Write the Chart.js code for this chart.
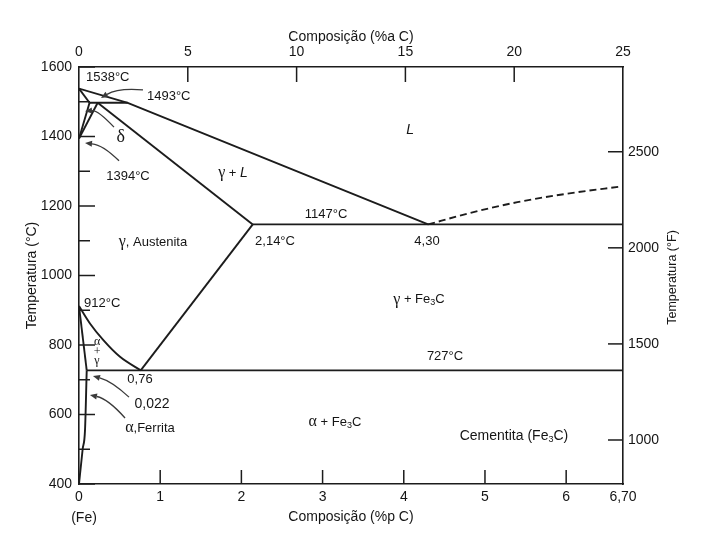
<!DOCTYPE html>
<html><head><meta charset="utf-8">
<script src="https://cdn.jsdelivr.net/npm/chart.js@4"></script>
<style>html,body{margin:0;padding:0;background:#fff}canvas{display:block}</style>
</head><body>
<canvas id="c" width="701" height="539"></canvas>
<script>
// ---------- tick labels ----------
const wtTicks = [0, 1, 2, 3, 4, 5, 6, 6.7];
const wtTickLabels = ['0', '1', '2', '3', '4', '5', '6', '6,70'];
const atTicks = [0, 5, 10, 15, 20, 25];
const tempTicks = [400, 600, 800, 1000, 1200, 1400, 1600];
const tempMinorTicks = [500, 700, 900, 1100, 1300, 1500];
const fTicks = [1000, 1500, 2000, 2500];

// ---------- phase boundaries: [wt% C, °C] ----------
const liquidus      = [[0, 1538], [0.6, 1497], [4.30, 1147]];
const liquidusFe3C  = [[4.30, 1147], [4.8, 1179], [5.4, 1211], [6.0, 1235], [6.7, 1257]];
const deltaSolidus  = [[0, 1538], [0.13, 1497]];
const peritectic    = [[0.13, 1497], [0.6, 1497]];
const deltaSolvus   = [[0, 1394], [0.13, 1497]];
const gammaDelta    = [[0, 1394], [0.23, 1497]];
const gammaSolidus  = [[0.23, 1497], [2.14, 1147]];
const eutectic      = [[2.14, 1147], [6.7, 1147]];
const acm           = [[2.14, 1147], [0.76, 727]];
const a3            = [[0, 912], [0.135, 862], [0.30, 814], [0.505, 766], [0.76, 727]];
const alphaGamma    = [[0, 912], [0.095, 727]];
const eutectoid     = [[0.095, 727], [6.7, 727]];
const alphaSolvus   = [[0.095, 727], [0.074, 555], [0.045, 500], [0, 400]];

const boundaries = [
  {data: liquidus}, {data: liquidusFe3C, dash: [7, 4], curve: true},
  {data: deltaSolidus}, {data: peritectic}, {data: deltaSolvus}, {data: gammaDelta},
  {data: gammaSolidus}, {data: eutectic}, {data: acm}, {data: a3, curve: true},
  {data: alphaGamma}, {data: eutectoid}, {data: alphaSolvus, curve: true}
];

const LINE = '#1c1c1c';
const TXT = '#151515';
const FAM = '"Liberation Sans", Arial, sans-serif';
const SERIF = '"Liberation Serif", "Times New Roman", serif';

const datasets = boundaries.map(b => ({
  data: b.data.map(p => ({x: p[0], y: p[1]})),
  showLine: true, pointRadius: 0, borderColor: LINE, borderWidth: 1.9,
  borderDash: b.dash || [], tension: b.curve ? 0.4 : 0,
  cubicInterpolationMode: b.curve ? 'monotone' : 'default',
  xAxisID: 'x', yAxisID: 'y'
}));

// ---------- annotation texts (anchored in data coords) ----------
const FONTS = {
  n: {f: '13px ' + FAM},
  b: {f: '14px ' + FAM},
  i: {f: 'italic 14px ' + FAM},
  g: {f: '16px ' + SERIF},
  gs: {f: '12px ' + SERIF},
  d: {f: '18px ' + SERIF},
  s: {f: '9px ' + FAM, dy: 3}
};
const notes = [
  {segs: [['1538°C', 'n']], at: [0.086, 1571], align: 'left'},
  {segs: [['1493°C', 'n']], at: [0.837, 1516], align: 'left'},
  {segs: [['δ', 'd']], at: [0.514, 1399], align: 'center'},
  {segs: [['1394°C', 'n']], at: [0.603, 1286], align: 'center'},
  {segs: [['L', 'i']], at: [4.077, 1419], align: 'center'},
  {segs: [['γ', 'g'], [' + ', 'n'], ['L', 'i']], at: [1.897, 1295], align: 'center'},
  {segs: [['1147°C', 'n']], at: [3.042, 1177], align: 'center'},
  {segs: [['2,14°C', 'n']], at: [2.414, 1099], align: 'center'},
  {segs: [['4,30', 'n']], at: [4.286, 1099], align: 'center'},
  {segs: [['γ', 'g'], [', Austenita', 'n']], at: [0.911, 1096], align: 'center'},
  {segs: [['γ', 'g'], [' + Fe', 'n'], ['3', 's'], ['C', 'n']], at: [4.187, 930], align: 'center'},
  {segs: [['727°C', 'n']], at: [4.508, 766], align: 'center'},
  {segs: [['α', 'g'], [' + Fe', 'n'], ['3', 's'], ['C', 'n']], at: [3.153, 578], align: 'center'},
  {segs: [['Cementita (Fe', 'b'], ['3', 's'], ['C)', 'b']], at: [5.357, 538], align: 'center'},
  {segs: [['912°C', 'n']], at: [0.062, 921], align: 'left'},
  {segs: [['α', 'gs']], at: [0.222, 809], align: 'center'},
  {segs: [['+', 'gs']], at: [0.222, 781], align: 'center'},
  {segs: [['γ', 'gs']], at: [0.222, 754], align: 'center'},
  {segs: [['0,76', 'n']], at: [0.751, 702], align: 'center'},
  {segs: [['0,022', 'b']], at: [0.899, 630], align: 'center'},
  {segs: [['α', 'g'], [',Ferrita', 'n']], at: [0.874, 561], align: 'center'}
];
// arrows: start, control, end (arrow head at end)
const arrows = [
  [[0.788, 1534], [0.480, 1540], [0.271, 1511]],
  [[0.431, 1427], [0.234, 1476], [0.074, 1473]],
  [[0.493, 1330], [0.296, 1376], [0.074, 1381]],
  [[0.616, 650], [0.406, 696], [0.172, 711]],
  [[0.567, 590], [0.357, 645], [0.135, 656]]
];

function drawRich(ctx, segs, x, y, align) {
  const w = segs.map(s => { ctx.font = FONTS[s[1]].f; return ctx.measureText(s[0]).width; });
  const total = w.reduce((a, b) => a + b, 0);
  let cx = align === 'left' ? x : align === 'right' ? x - total : x - total / 2;
  ctx.textAlign = 'left'; ctx.textBaseline = 'middle';
  segs.forEach((s, i) => {
    ctx.font = FONTS[s[1]].f;
    ctx.fillText(s[0], cx, y + (FONTS[s[1]].dy || 0));
    cx += w[i];
  });
}

const decor = {
  id: 'decor',
  afterDraw(chart) {
    const {ctx, scales} = chart;
    const X = scales.x, Y = scales.y, X2 = scales.x2, Y2 = scales.y2;
    const px = v => X.getPixelForValue(v), py = v => Y.getPixelForValue(v);
    ctx.save();
    // inward tick marks
    ctx.strokeStyle = LINE; ctx.lineWidth = 1.5;
    const seg = (x1, y1, x2, y2) => { ctx.beginPath(); ctx.moveTo(x1, y1); ctx.lineTo(x2, y2); ctx.stroke(); };
    tempTicks.forEach(v => seg(X.left, py(v), X.left + 16, py(v)));
    tempMinorTicks.forEach(v => seg(X.left, py(v), X.left + 11, py(v)));
    wtTicks.slice(1, -1).forEach(v => seg(px(v), Y.bottom, px(v), Y.bottom - 14));
    atTicks.slice(1, -1).forEach(v => { const p = X2.getPixelForValue(v); seg(p, Y.top, p, Y.top + 15); });
    fTicks.forEach(v => { const p = Y2.getPixelForValue(v); seg(X.right, p, X.right - 15, p); });

    // texts
    ctx.fillStyle = TXT;
    notes.forEach(n => drawRich(ctx, n.segs, px(n.at[0]), py(n.at[1]), n.align));

    // arrows
    ctx.strokeStyle = '#3a3a3a'; ctx.fillStyle = '#3a3a3a'; ctx.lineWidth = 1.3;
    arrows.forEach(a => {
      const s = [px(a[0][0]), py(a[0][1])], c = [px(a[1][0]), py(a[1][1])], e = [px(a[2][0]), py(a[2][1])];
      const ang = Math.atan2(e[1] - c[1], e[0] - c[0]);
      const hl = 7, hw = 3;
      const bx = e[0] - Math.cos(ang) * hl, by = e[1] - Math.sin(ang) * hl;
      ctx.beginPath(); ctx.moveTo(s[0], s[1]); ctx.quadraticCurveTo(c[0], c[1], bx, by); ctx.stroke();
      ctx.beginPath();
      ctx.moveTo(e[0], e[1]);
      ctx.lineTo(bx - Math.sin(ang) * hw, by + Math.cos(ang) * hw);
      ctx.lineTo(bx + Math.sin(ang) * hw, by - Math.cos(ang) * hw);
      ctx.closePath(); ctx.fill();
    });

    // (Fe) and right axis title
    ctx.fillStyle = TXT;
    ctx.font = '14px ' + FAM; ctx.textAlign = 'center'; ctx.textBaseline = 'middle';
    ctx.fillText('(Fe)', px(0) + 5, 518);
    ctx.translate(Y2.left + 50, (Y2.top + Y2.bottom) / 2 + 2);
    ctx.rotate(-Math.PI / 2);
    ctx.font = '12.5px ' + FAM;
    ctx.fillText('Temperatura (°F)', 0, 0);
    ctx.restore();
  }
};

const tickFont = {family: FAM, size: 14};
const titleFont = {family: FAM, size: 14};
const noGrid = {display: false, drawTicks: false};
const border = {display: true, color: LINE, width: 1.6};
const plain = v => String(v);

new Chart(document.getElementById('c'), {
  type: 'scatter',
  data: {datasets},
  options: {
    responsive: false, animation: false, events: [],
    layout: {padding: 0},
    plugins: {legend: {display: false}, tooltip: {enabled: false}},
    scales: {
      x: {
        type: 'linear', position: 'bottom', min: 0, max: 6.7,
        afterBuildTicks: s => { s.ticks = wtTicks.map(v => ({value: v})); },
        afterFit: s => { s.height = 55; },
        ticks: {callback: v => wtTickLabels[wtTicks.indexOf(v)], padding: 5, color: TXT, font: tickFont, maxRotation: 0, autoSkip: false},
        grid: noGrid, border,
        title: {display: true, text: 'Composição (%p C)', padding: {top: 0, bottom: 13.6}, font: titleFont, color: TXT}
      },
      x2: {
        type: 'linear', position: 'top', min: 0, max: 25,
        afterBuildTicks: s => { s.ticks = atTicks.map(v => ({value: v})); },
        afterFit: s => { s.height = 67; },
        ticks: {callback: plain, padding: 6, color: TXT, font: tickFont, maxRotation: 0, autoSkip: false},
        grid: noGrid, border,
        title: {display: true, text: 'Composição (%a C)', padding: {top: 28.6, bottom: 0}, font: titleFont, color: TXT}
      },
      y: {
        type: 'linear', position: 'left', min: 400, max: 1600,
        afterBuildTicks: s => { s.ticks = tempTicks.map(v => ({value: v})); },
        afterFit: s => { s.width = 79; },
        ticks: {callback: plain, padding: 7, color: TXT, font: tickFont, autoSkip: false},
        grid: noGrid, border,
        title: {display: true, text: 'Temperatura (°C)', padding: {top: 23.6, bottom: 0}, font: {family: FAM, size: 14}, color: TXT}
      },
      y2: {
        type: 'linear', position: 'right', min: 771, max: 2941,
        afterBuildTicks: s => { s.ticks = fTicks.map(v => ({value: v})); },
        afterFit: s => { s.width = 78; },
        ticks: {callback: plain, padding: 5, color: TXT, font: tickFont, autoSkip: false},
        grid: noGrid, border
      }
    }
  },
  plugins: [decor]
});
</script>
</body></html>
